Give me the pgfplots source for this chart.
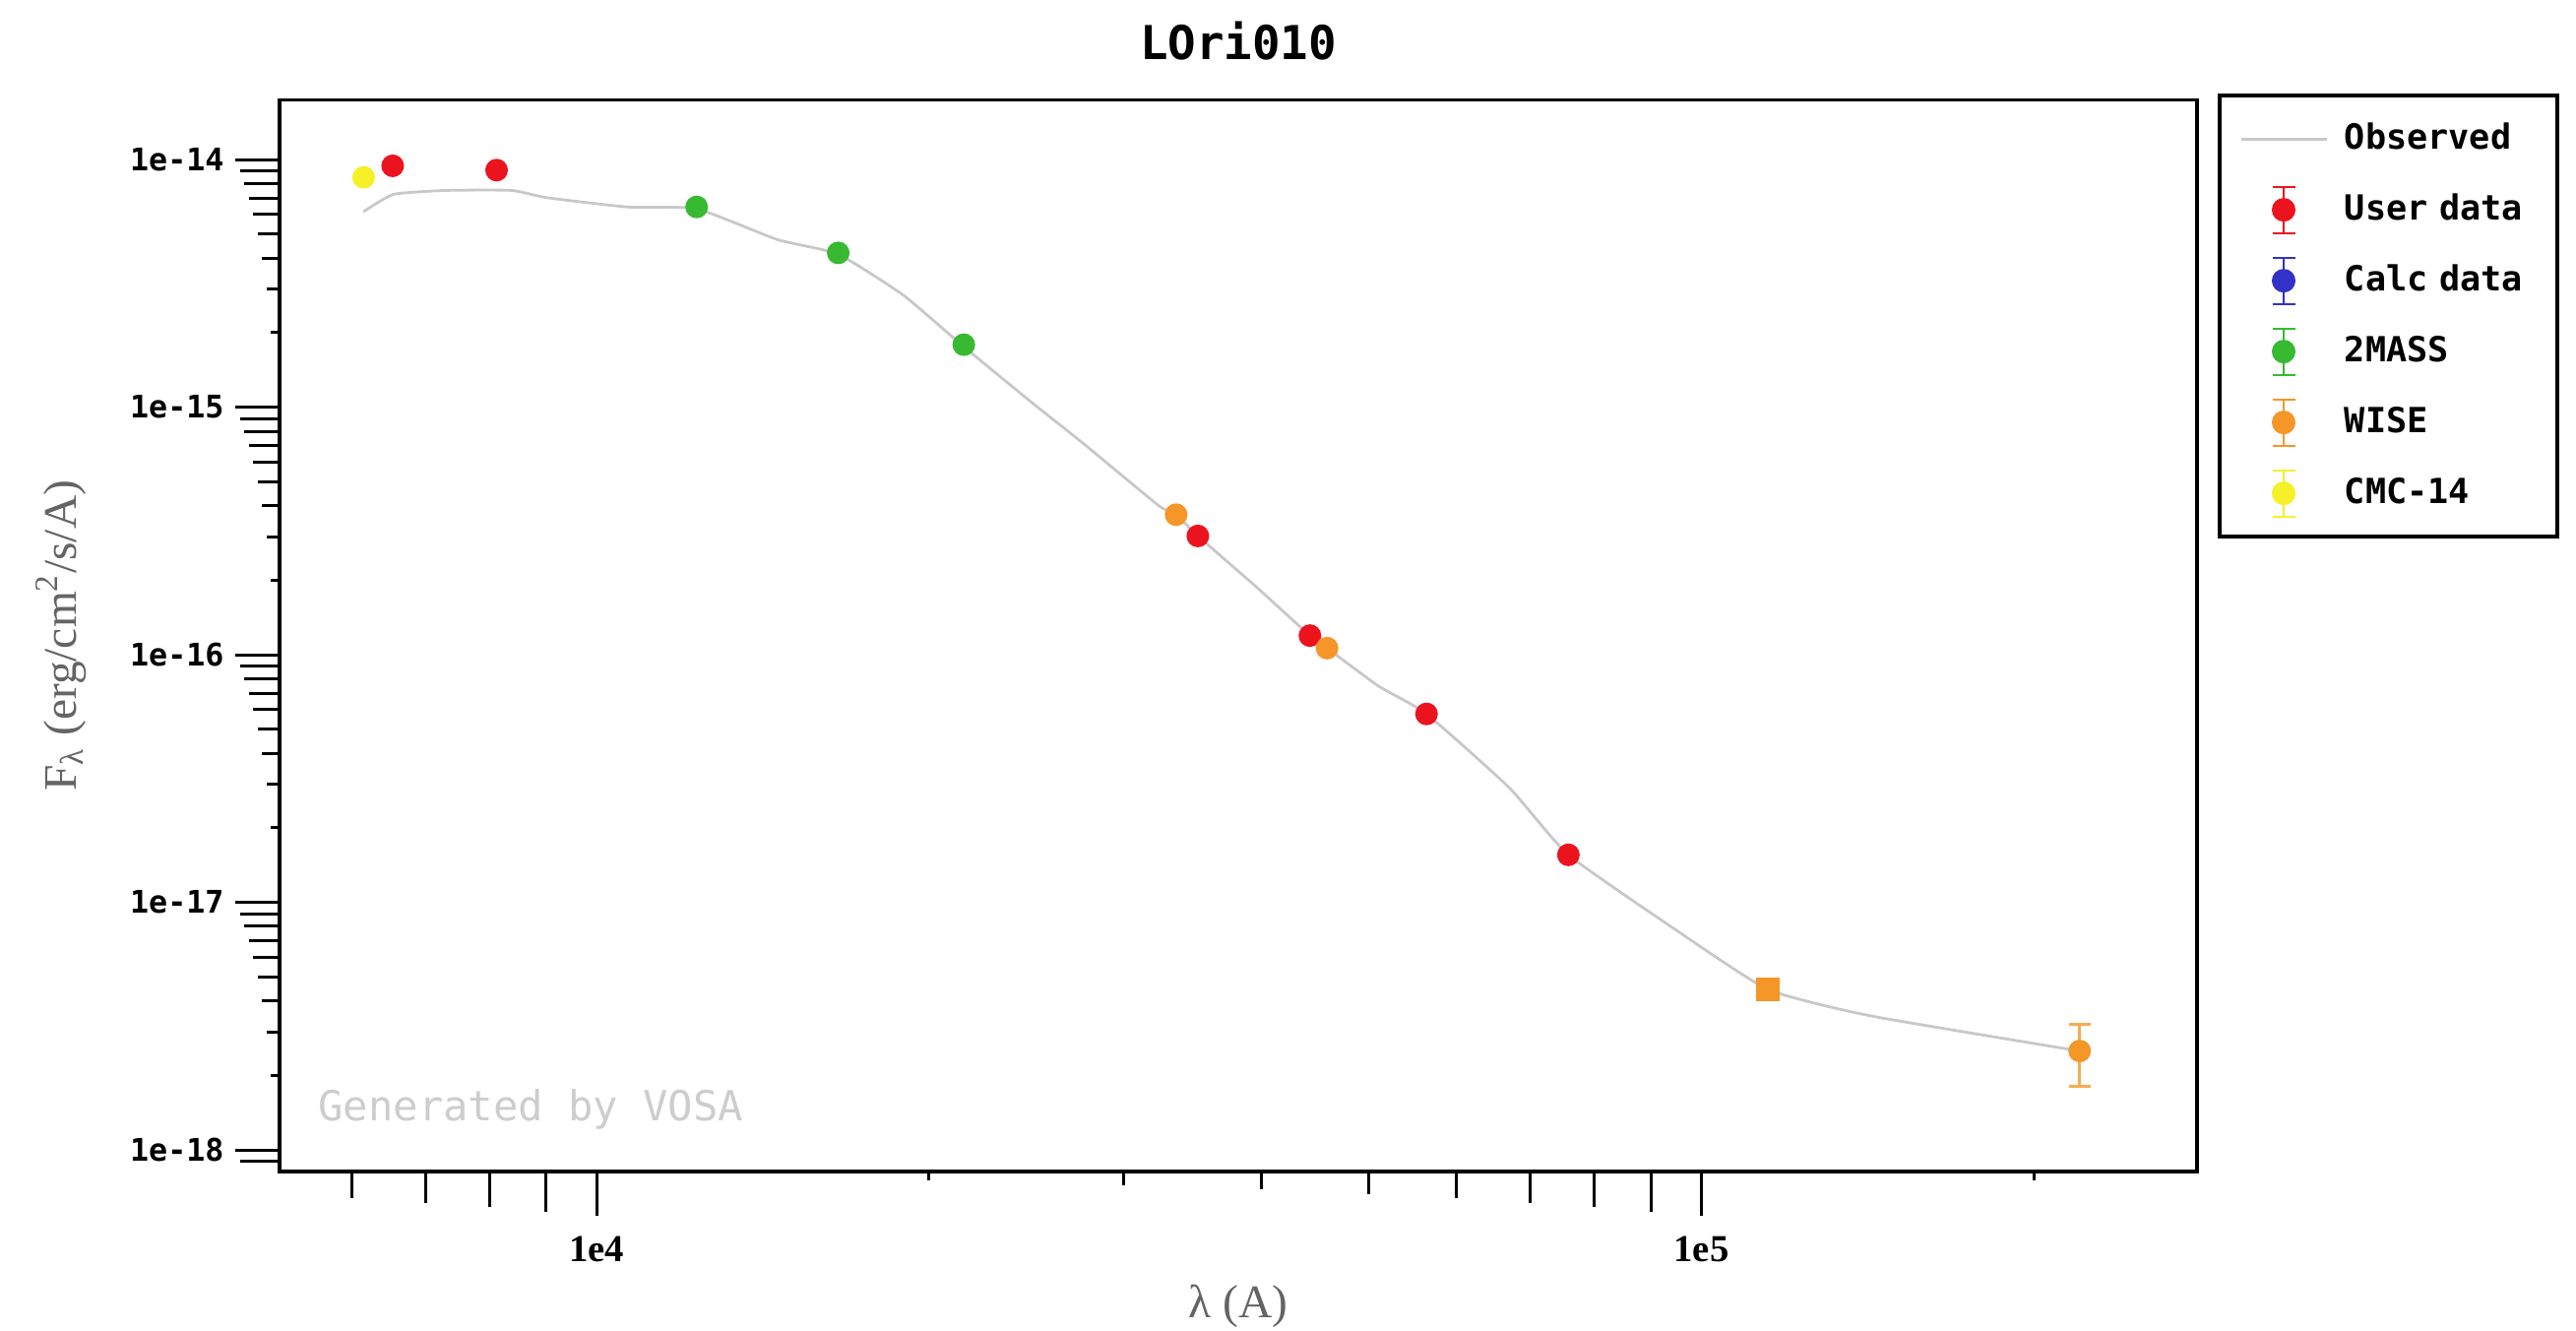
\documentclass[border=0pt]{standalone}
\usepackage{fontspec}
\setmainfont{Liberation Serif}
\newfontfamily\mono{DejaVu Sans Mono}
\usepackage{pgfplots}
\pgfplotsset{compat=1.18}

\definecolor{userred}{RGB}{235,20,30}
\definecolor{calcblue}{RGB}{50,50,200}
\definecolor{massgreen}{RGB}{55,185,50}
\definecolor{wiseorange}{RGB}{245,150,40}
\definecolor{cmcyellow}{RGB}{245,240,40}
\definecolor{obsgray}{RGB}{200,200,200}
\definecolor{labelgray}{RGB}{100,100,100}
\definecolor{vosagray}{RGB}{205,205,205}

\pgfplotsset{
  errleg/.style={legend image code/.code={
    \path[draw=none,fill=none] (0cm,-0.36cm) rectangle (0.87cm,0.36cm);
    \draw[line width=0.5pt,solid] (0.435cm,-0.235cm) -- (0.435cm,0.235cm)
      (0.32cm,-0.235cm) -- (0.55cm,-0.235cm)
      (0.32cm,0.235cm) -- (0.55cm,0.235cm);
    \fill (0.435cm,0cm) circle (1mm);
  }},
  lineleg/.style={legend image code/.code={
    \path[draw=none,fill=none] (0cm,-0.36cm) rectangle (0.87cm,0.36cm);
    \draw (0cm,0cm) -- (0.87cm,0cm);
  }},
}

\begin{document}
\begin{tikzpicture}
\useasboundingbox (-28.4mm,-16.2mm) rectangle (233.3mm,119.0mm);
\begin{axis}[
  scale only axis,
  width=194.8mm, height=108.84mm,
  xmode=log, ymode=log,
  xmin=5166, xmax=2.81e5,
  ymin=8.18e-19, ymax=1.74e-14,
  axis line style={line width=0.35mm, black},
  tick align=outside,
  xtick pos=bottom, ytick pos=left,
  major tick length=4.5mm,
  major tick style={line width=0.3mm, black},
  minor tick style={draw=none},
  xtick={1e4,1e5}, xticklabels={1e4,1e5},
  ytick={1e-18,1e-17,1e-16,1e-15,1e-14},
  yticklabels={1e-18,1e-17,1e-16,1e-15,1e-14},
  xticklabel style={font=\bfseries\fontsize{11}{13}\selectfont, inner sep=0pt, yshift=-2mm},
  yticklabel style={font=\mono\bfseries\fontsize{9}{11}\selectfont, inner sep=0pt, xshift=-1.1mm},
  title={LOri010},
  title style={font=\mono\bfseries\fontsize{13.5}{16}\selectfont, at={(0.5,1)}, anchor=base, yshift=1.96mm},
  xlabel={λ (A)},
  xlabel style={font=\fontsize{13.5}{16}\selectfont, text=labelgray, at={(axis description cs:0.5,-0.126)}, anchor=center},
  ylabel={F\textsubscript{λ} (erg/cm\textsuperscript{2}/s/A)},
  ylabel style={font=\fontsize{13.5}{16}\selectfont, text=labelgray, at={(axis description cs:-0.114,0.5)}, anchor=center},
  legend style={at={(1.0108,1.006)}, anchor=north west, draw=black, line width=0.4mm,
    inner xsep=2mm, inner ysep=0.8mm, row sep=0pt, column sep=1.7mm,
    nodes={inner sep=0pt, text height=2.6mm, text depth=0.6mm, text width=19.6mm,
      font=\mono\bfseries\fontsize{10}{12}\selectfont}},
  legend cell align=left,
  after end axis/.code={
    \foreach \ex in {15,16,17,18}{
      \foreach \m in {2,...,9}{
        \draw[line width=0.3mm] ({rel axis cs:0,0} |- {axis cs:1e4,\m e-\ex}) -- ++(-\m*0.45mm,0);
      }
    }
    \draw[line width=0.3mm] ({rel axis cs:0,0} |- {axis cs:1e4,9e-19}) -- ++(-4.05mm,0);
    \foreach \m in {6,7,8,9}{
      \draw[line width=0.3mm] ({axis cs:\m e3,1e-16} |- {rel axis cs:0,0}) -- ++(0,-\m*0.45mm);
    }
    \foreach \m in {2,...,9}{
      \draw[line width=0.3mm] ({axis cs:\m e4,1e-16} |- {rel axis cs:0,0}) -- ++(0,-\m*0.45mm);
    }
    \draw[line width=0.3mm] ({axis cs:2e5,1e-16} |- {rel axis cs:0,0}) -- ++(0,-0.9mm);
  },
]

% observed SED
\addplot[obsgray, line width=0.28mm, smooth, tension=0.3, lineleg] coordinates {
  (6152,6.16e-15) (6551,7.24e-15) (7312,7.51e-15) (8379,7.51e-15) (9016,7.02e-15)
  (10659,6.44e-15) (12321,6.33e-15) (14585,4.75e-15) (16547,4.15e-15) (18967,2.83e-15)
  (21500,1.755e-15) (24870,1.03e-15) (27560,7.16e-16) (32260,4.01e-16) (33470,3.68e-16)
  (35020,3.02e-16) (39610,1.87e-16) (44230,1.195e-16) (45840,1.064e-16) (51020,7.48e-17)
  (56400,5.77e-17) (67040,2.90e-17) (75800,1.556e-17) (94430,7.84e-18) (114900,4.45e-18)
  (142300,3.48e-18) (220000,2.51e-18)
};
\addlegendentry{Observed}

\addplot[userred, only marks, mark=*, mark size=1.08mm, errleg] coordinates {
  (6539,9.44e-15) (8120,9.07e-15) (35020,3.02e-16) (44230,1.195e-16)
  (56400,5.77e-17) (75800,1.556e-17)
};
\addlegendentry{User data}

\addlegendimage{calcblue, errleg}
\addlegendentry{Calc data}

\addplot[massgreen, only marks, mark=*, mark size=1.08mm, errleg] coordinates {
  (12320,6.44e-15) (16550,4.20e-15) (21500,1.789e-15)
};
\addlegendentry{2MASS}

\addplot[wiseorange, only marks, mark=*, mark size=1.08mm, errleg] coordinates {
  (33470,3.68e-16) (45840,1.064e-16)
};
\addlegendentry{WISE}

\addplot[wiseorange, only marks, mark=square*, mark size=1.1mm, forget plot] coordinates {
  (114900,4.45e-18)
};

\addplot[wiseorange, only marks, mark=*, mark size=1.08mm, forget plot,
  error bars/.cd, y dir=both, y explicit,
  error bar style={line width=0.3mm, wiseorange!80},
  error mark options={rotate=90, mark size=1.1mm, line width=0.3mm, wiseorange!80}]
  coordinates {
  (220000,2.51e-18) +- (0,0.7e-18)
};

\addplot[cmcyellow, only marks, mark=*, mark size=1.08mm, errleg] coordinates {
  (6155,8.48e-15)
};
\addlegendentry{CMC-14}

\node[anchor=west, inner sep=0pt, text=vosagray, font=\mono\fontsize{12}{14}\selectfont]
  at (rel axis cs:0.0199,0.0579) {Generated by VOSA};
\end{axis}
\end{tikzpicture}
\end{document}
